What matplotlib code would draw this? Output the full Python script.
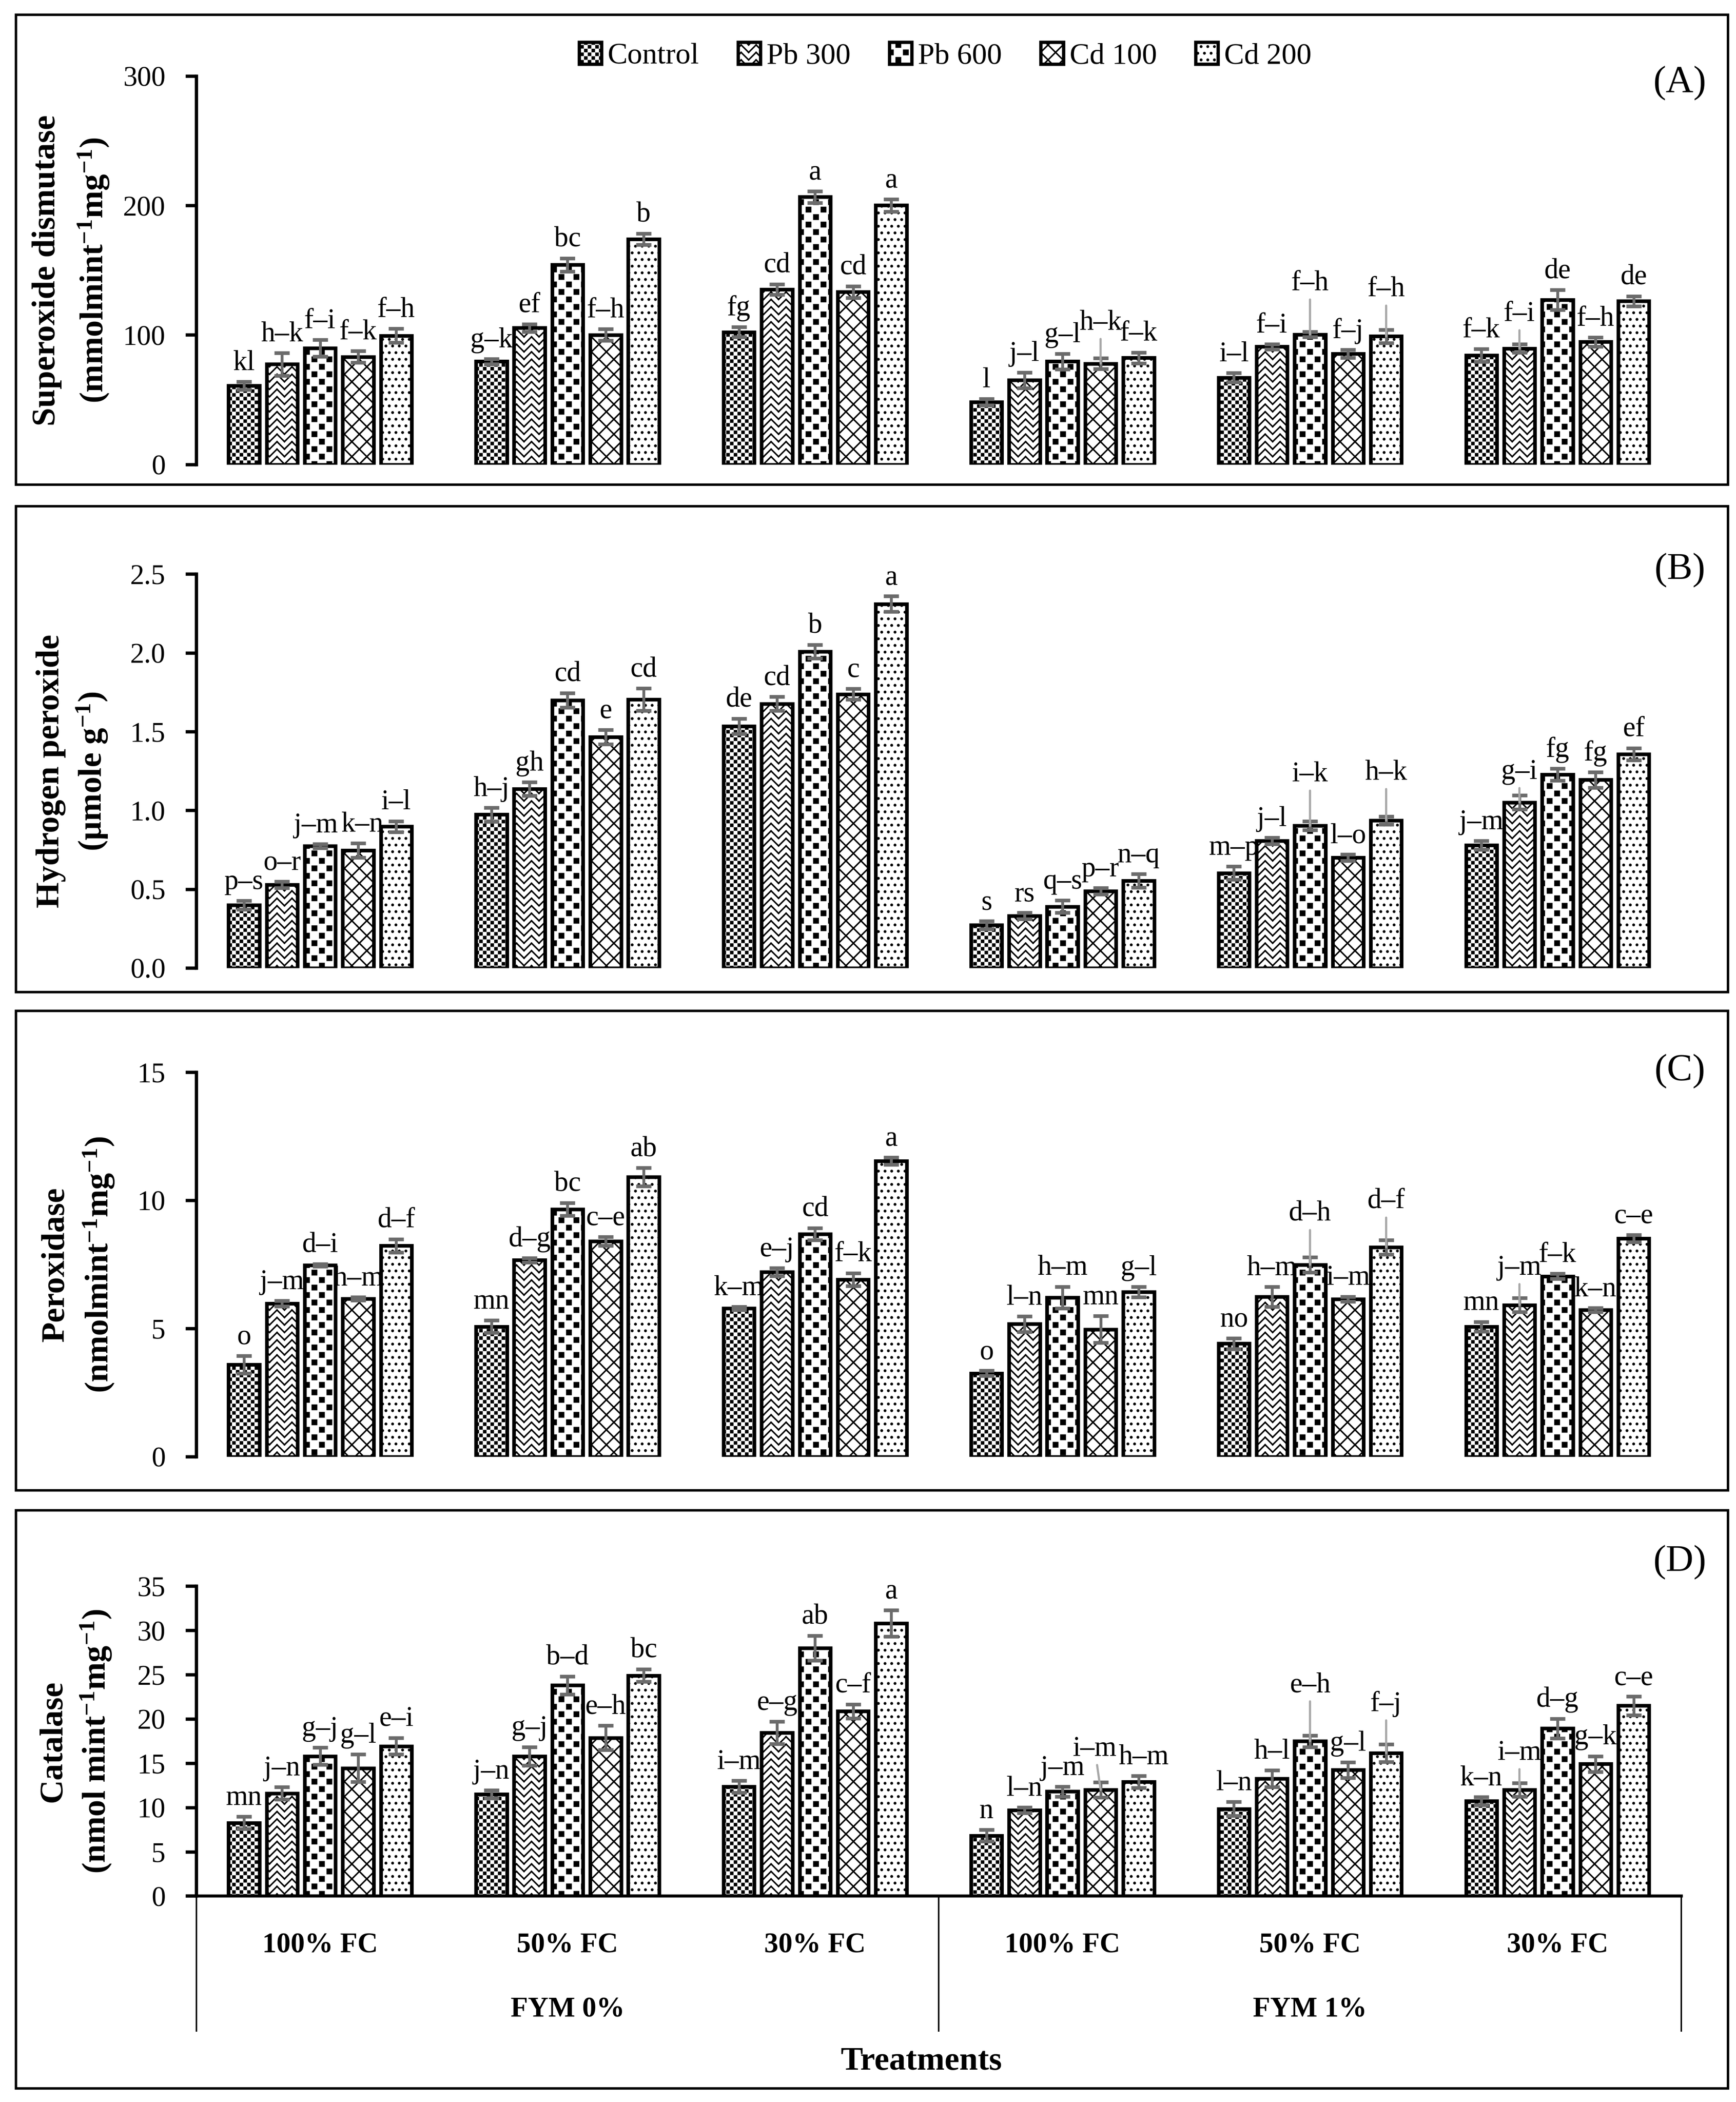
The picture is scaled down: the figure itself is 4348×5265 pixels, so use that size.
import numpy as np
import matplotlib
matplotlib.use('Agg')
import matplotlib.pyplot as plt
import matplotlib.transforms as mtransforms
from matplotlib import hatch as mhatch
from matplotlib.path import Path
from matplotlib.patches import Rectangle, Patch
from matplotlib.lines import Line2D
from matplotlib.ticker import FormatStrFormatter

# ---------------- data ----------------
water_levels = ['100% FC', '50% FC', '30% FC', '100% FC', '50% FC', '30% FC']
fym_levels = ['FYM 0%', 'FYM 1%']
treatments = ['Control', 'Pb 300', 'Pb 600', 'Cd 100', 'Cd 200']

# rows: treatment groups (water x FYM), columns: Control, Pb300, Pb600, Cd100, Cd200
sod_values = [[61.0, 77.5, 90.0, 83.3, 99.6],
              [79.7, 105.6, 154.3, 100.2, 174.2],
              [102.4, 135.3, 206.7, 133.3, 200.2],
              [48.3, 65.2, 79.7, 78.1, 82.5],
              [67.3, 91.1, 100.6, 85.7, 99.1],
              [84.4, 89.8, 127.3, 94.8, 126.2]]
sod_errors = [[3.0, 8.7, 6.5, 4.5, 5.4],
              [2.0, 3.0, 5.0, 4.5, 4.3],
              [3.8, 4.0, 4.5, 4.5, 4.8],
              [2.5, 6.0, 6.0, 4.3, 4.2],
              [3.5, 2.0, 2.0, 3.0, 5.2],
              [5.0, 3.2, 7.6, 3.5, 4.0]]
sod_letters = [['kl', 'h–k', 'f–i', 'f–k', 'f–h'],
               ['g–k', 'ef', 'bc', 'f–h', 'b'],
               ['fg', 'cd', 'a', 'cd', 'a'],
               ['l', 'j–l', 'g–l', 'h–k', 'f–k'],
               ['i–l', 'f–i', 'f–h', 'f–j', 'f–h'],
               ['f–k', 'f–i', 'de', 'f–h', 'de']]

h2o2_values = [[0.40, 0.53, 0.775, 0.747, 0.898],
               [0.974, 1.137, 1.70, 1.466, 1.705],
               [1.535, 1.678, 2.01, 1.739, 2.311],
               [0.273, 0.331, 0.391, 0.488, 0.555],
               [0.603, 0.807, 0.904, 0.701, 0.937],
               [0.78, 1.052, 1.228, 1.195, 1.358]]
h2o2_errors = [[0.027, 0.020, 0.013, 0.046, 0.035],
               [0.044, 0.044, 0.046, 0.046, 0.070],
               [0.048, 0.044, 0.043, 0.034, 0.049],
               [0.025, 0.020, 0.040, 0.020, 0.043],
               [0.042, 0.020, 0.028, 0.020, 0.026],
               [0.027, 0.044, 0.038, 0.049, 0.038]]
h2o2_letters = [['p–s', 'o–r', 'j–m', 'k–n', 'i–l'],
                ['h–j', 'gh', 'cd', 'e', 'cd'],
                ['de', 'cd', 'b', 'c', 'a'],
                ['s', 'rs', 'q–s', 'p–r', 'n–q'],
                ['m–p', 'j–l', 'i–k', 'l–o', 'h–k'],
                ['j–m', 'g–i', 'fg', 'fg', 'ef']]

pod_values = [[3.60, 5.98, 7.47, 6.17, 8.23],
              [5.08, 7.67, 9.66, 8.41, 10.91],
              [5.79, 7.21, 8.69, 6.92, 11.54],
              [3.26, 5.18, 6.22, 4.97, 6.43],
              [4.42, 6.24, 7.49, 6.15, 8.18],
              [5.08, 5.92, 7.04, 5.73, 8.52]]
pod_errors = [[0.34, 0.11, 0.05, 0.06, 0.26],
              [0.24, 0.08, 0.25, 0.17, 0.36],
              [0.06, 0.15, 0.23, 0.25, 0.14],
              [0.10, 0.30, 0.42, 0.52, 0.20],
              [0.21, 0.39, 0.29, 0.10, 0.28],
              [0.19, 0.27, 0.10, 0.08, 0.14]]
pod_letters = [['o', 'j–m', 'd–i', 'h–m', 'd–f'],
               ['mn', 'd–g', 'bc', 'c–e', 'ab'],
               ['k–m', 'e–j', 'cd', 'f–k', 'a'],
               ['o', 'l–n', 'h–m', 'mn', 'g–l'],
               ['no', 'h–m', 'd–h', 'i–m', 'd–f'],
               ['mn', 'j–m', 'f–k', 'k–n', 'c–e']]

cat_values = [[8.29, 11.61, 15.82, 14.47, 16.95],
              [11.52, 15.82, 23.81, 17.90, 24.93],
              [12.37, 18.47, 28.02, 20.88, 30.83],
              [6.84, 9.72, 11.82, 12.01, 12.93],
              [9.86, 13.27, 17.51, 14.25, 16.15],
              [10.75, 12.01, 18.94, 14.94, 21.51]]
cat_errors = [[0.70, 0.70, 0.96, 1.55, 0.93],
              [0.45, 1.04, 1.03, 1.38, 0.70],
              [0.67, 1.26, 1.40, 0.80, 1.48],
              [0.66, 0.30, 0.56, 0.85, 0.67],
              [0.80, 0.96, 0.66, 0.87, 1.00],
              [0.46, 0.75, 1.12, 0.88, 1.05]]
cat_letters = [['mn', 'j–n', 'g–j', 'g–l', 'e–i'],
               ['j–n', 'g–j', 'b–d', 'e–h', 'bc'],
               ['i–m', 'e–g', 'ab', 'c–f', 'a'],
               ['n', 'l–n', 'j–m', 'i–m', 'h–m'],
               ['l–n', 'h–l', 'e–h', 'g–l', 'f–j'],
               ['k–n', 'i–m', 'd–g', 'g–k', 'c–e']]

# ---------------- custom hatches (Excel-like pattern fills) ----------------
HATCH_LW = 0.9  # points
_stroke_u = HATCH_LW * 300 / 72.0 / 300.0  # stroke width in hatch-tile units (tile = 1 inch)


class ExcelHatch(mhatch.HatchPatternBase):
    """'*' large confetti squares, '**' small checkerboard,
    'O' outlined diamonds, 'o' zig-zag."""

    def __init__(self, hatch, density):
        polys = []   # closed squares
        segs = []    # line segments
        n_star = hatch.count('*')
        if n_star == 1:
            h = 1.0 / 8.0
            half = 0.018
            for r in range(17):
                shift = 0.0 if r % 2 == 0 else h / 2
                cy = r * h / 2
                for c in range(-1, 9):
                    cx = c * h + shift
                    polys.append((cx - half, cy - half, cx + half, cy + half))
        elif n_star >= 2:
            cells = 32
            s = 1.0 / cells
            ins = 0.025 * s + _stroke_u / 2
            for r in range(cells):
                for c in range(cells):
                    if (r + c) % 2 == 0:
                        polys.append((c * s + ins, r * s + ins, (c + 1) * s - ins, (r + 1) * s - ins))
        if 'O' in hatch:
            n = 8
            for k in range(-n, n + 1):
                x0 = k / n
                segs.append(((x0, 0.0), (x0 + 1.0, 1.0)))
                segs.append(((x0, 1.0), (x0 + 1.0, 0.0)))
        if 'o' in hatch:
            P = 1.0 / 8.0
            A = 1.0 / 16.0
            for r in range(-1, 17):
                y = r * A
                for c in range(-1, 9):
                    x = c * P
                    segs.append(((x, y), (x + P / 2, y + A)))
                    segs.append(((x + P / 2, y + A), (x + P, y)))
        self.polys = polys
        self.segs = segs
        self.num_vertices = 5 * len(polys) + 2 * len(segs)

    def set_vertices_and_codes(self, vertices, codes):
        k = 0
        for (x0, y0, x1, y1) in self.polys:
            vertices[k:k + 5] = [[x0, y0], [x1, y0], [x1, y1], [x0, y1], [x0, y0]]
            codes[k:k + 5] = [Path.MOVETO, Path.LINETO, Path.LINETO, Path.LINETO, Path.CLOSEPOLY]
            k += 5
        for (a, b) in self.segs:
            vertices[k:k + 2] = [a, b]
            codes[k:k + 2] = [Path.MOVETO, Path.LINETO]
            k += 2


mhatch._hatch_types = [t for t in mhatch._hatch_types
                       if t not in (mhatch.Stars, mhatch.LargeCircles, mhatch.SmallCircles)] + [ExcelHatch]

# ---------------- style ----------------
SERIF = 'Liberation Serif'
plt.rcParams['font.family'] = [SERIF, 'DejaVu Serif']
plt.rcParams['mathtext.fontset'] = 'custom'
plt.rcParams['mathtext.rm'] = SERIF
plt.rcParams['mathtext.bf'] = SERIF + ':bold'
plt.rcParams['mathtext.it'] = SERIF + ':italic'
plt.rcParams['hatch.linewidth'] = HATCH_LW
plt.rcParams['hatch.color'] = 'black'

hatches = ['**', 'o', '*', 'O', '...']
err_color = '#6b6b6b'
lead_color = '#a8a8a8'

W_D, H_D = 1300.0, 5265.0 / (4348.0 / 1300.0)


def fx(x):
    return x / W_D


def fy(y):
    return 1.0 - y / H_D


X0, X1 = 147.0, 1259.0
slot = 0.1538
bar_w = 0.125
LET_FS = 17
TICK_FS = 17

fig = plt.figure(figsize=(4348 / 300, 5265 / 300), dpi=300)

panels = [
    dict(vals=sod_values, errs=sod_errors, lets=sod_letters, ymax=300, step=100, fmt='%d',
         ax_y=(57, 348), box=(11, 363), tag='(A)', tag_y=62,
         ylab1='Superoxide dismutase', ylab2=r'$\mathbf{(mmolmint^{-1}mg^{-1})}$', lab_x=(35, 70),
         raised={(3, 3): 17, (4, 2): 25, (4, 4): 20, (5, 1): 14},
         nudge={}),
    dict(vals=h2o2_values, errs=h2o2_errors, lets=h2o2_letters, ymax=2.5, step=0.5, fmt='%.1f',
         ax_y=(430, 725), box=(379, 743), tag='(B)', tag_y=427,
         ylab1='Hydrogen peroxide', ylab2=r'$\mathbf{(µmole\ g^{-1})}$', lab_x=(38, 69),
         raised={(4, 2): 24, (4, 4): 22, (5, 1): 10},
         nudge={(0, 2): -2.5, (0, 3): 2.5}),
    dict(vals=pod_values, errs=pod_errors, lets=pod_letters, ymax=15, step=5, fmt='%d',
         ax_y=(803, 1091), box=(757, 1116), tag='(C)', tag_y=802,
         ylab1='Peroxidase', ylab2=r'$\mathbf{(nmolmint^{-1}mg^{-1})}$', lab_x=(42, 74),
         raised={(4, 2): 22, (4, 4): 19, (5, 1): 14},
         nudge={}),
    dict(vals=cat_values, errs=cat_errors, lets=cat_letters, ymax=35, step=5, fmt='%d',
         ax_y=(1188, 1420), box=(1131, 1564), tag='(D)', tag_y=1170,
         ylab1='Catalase', ylab2=r'$\mathbf{(nmol\ mint^{-1}mg^{-1})}$', lab_x=(40, 72),
         raised={(3, 3): 16, (4, 2): 26, (4, 4): 20, (5, 1): 14},
         nudge={(3, 3): -3.5, (3, 4): 3.0}),
]

axes = []
for k, p in enumerate(panels):
    ytop, ybot = p['ax_y']
    ax = fig.add_axes([fx(X0), fy(ybot), (X1 - X0) / W_D, (ybot - ytop) / H_D])
    axes.append(ax)
    # frame
    b0, b1 = p['box']
    fig.add_artist(Rectangle((fx(12), fy(b1)), (1294 - 12) / W_D, (b1 - b0) / H_D,
                             transform=fig.transFigure, fill=False, ec='black', lw=1.5))
    x = np.arange(len(water_levels))
    for j in range(len(treatments)):
        xs = x + (j - 2) * slot
        vals = np.array([row[j] for row in p['vals']])
        errs = np.array([row[j] for row in p['errs']])
        ax.bar(xs, vals, width=bar_w, facecolor='white', edgecolor='black', linewidth=2.2,
               hatch=hatches[j], zorder=2)
        ax.errorbar(xs, vals, yerr=errs, fmt='none', ecolor=err_color, elinewidth=1.7,
                    capsize=4.5, capthick=2.2, zorder=3)
        for i in range(len(water_levels)):
            lab = p['lets'][i][j]
            top = vals[i] + errs[i]
            dx = p['nudge'].get((i, j), 0.0)
            if (i, j) in p['raised']:
                off = p['raised'][(i, j)]
                tr = ax.transData + mtransforms.ScaledTranslation(dx / 72.0, off / 72.0,
                                                                  fig.dpi_scale_trans)
                ax.annotate(lab, xy=(xs[i], vals[i]), xytext=(xs[i], top), textcoords=tr,
                            ha='center', va='baseline', fontsize=LET_FS, zorder=4,
                            arrowprops=dict(arrowstyle='-', color=lead_color, lw=1.3,
                                            shrinkA=0, shrinkB=0))
            else:
                ax.annotate(lab, xy=(xs[i], top), xytext=(dx, 7), textcoords='offset points',
                            ha='center', va='baseline', fontsize=LET_FS, zorder=4)
    ax.set_xlim(-0.5, len(water_levels) - 0.5)
    ax.set_ylim(0, p['ymax'])
    ax.set_yticks(np.arange(0, p['ymax'] + p['step'] / 2, p['step']))
    ax.yaxis.set_major_formatter(FormatStrFormatter(p['fmt']))
    ax.set_xticks([])
    ax.tick_params(axis='y', length=6.5, width=2.0, pad=12, labelsize=TICK_FS, direction='out')
    for s in ['top', 'right']:
        ax.spines[s].set_visible(False)
    ax.spines['left'].set_linewidth(2.0)
    if k < 3:
        ax.spines['bottom'].set_visible(False)
    else:
        ax.spines['bottom'].set_linewidth(1.8)
    ax.patch.set_alpha(0)
    # y labels
    yc = (ytop + ybot) / 2
    fig.text(fx(p['lab_x'][0]), fy(yc), p['ylab1'], rotation=90, ha='center', va='center',
             fontsize=20, fontweight='bold')
    fig.text(fx(p['lab_x'][1]), fy(yc), p['ylab2'], rotation=90, ha='center', va='center',
             fontsize=20)
    # panel tag
    fig.text(fx(1258), fy(p['tag_y']), p['tag'], ha='center', va='center', fontsize=23)

# multi-level category axis on panel D
axD = axes[3]
trD = mtransforms.blended_transform_factory(axD.transData, fig.transFigure)
for xv in [-0.5, 2.5, 5.5]:
    fig.add_artist(Line2D([xv, xv], [fy(1420), fy(1521)], transform=trD, color='black', lw=0.9))
for i, lab in enumerate(water_levels):
    axD.text(i, fy(1457), lab, transform=trD, ha='center', va='center', fontsize=17,
             fontweight='bold')
for g, lab in enumerate(fym_levels):
    axD.text(1 + 3 * g, fy(1505), lab, transform=trD, ha='center', va='center', fontsize=17,
             fontweight='bold')
fig.text(fx(690), fy(1544), 'Treatments', ha='center', va='center', fontsize=20,
         fontweight='bold')

# legend
handles = [Patch(facecolor='white', edgecolor='black', lw=2.0, hatch=h) for h in hatches]
fig.legend(handles, treatments, loc='center', bbox_to_anchor=(fx(708), fy(42)), ncol=5,
           frameon=False, handlelength=0.75, handleheight=0.75, handletextpad=0.2,
           columnspacing=1.3, fontsize=18, borderaxespad=0)

fig.savefig('out.png', dpi=300)
